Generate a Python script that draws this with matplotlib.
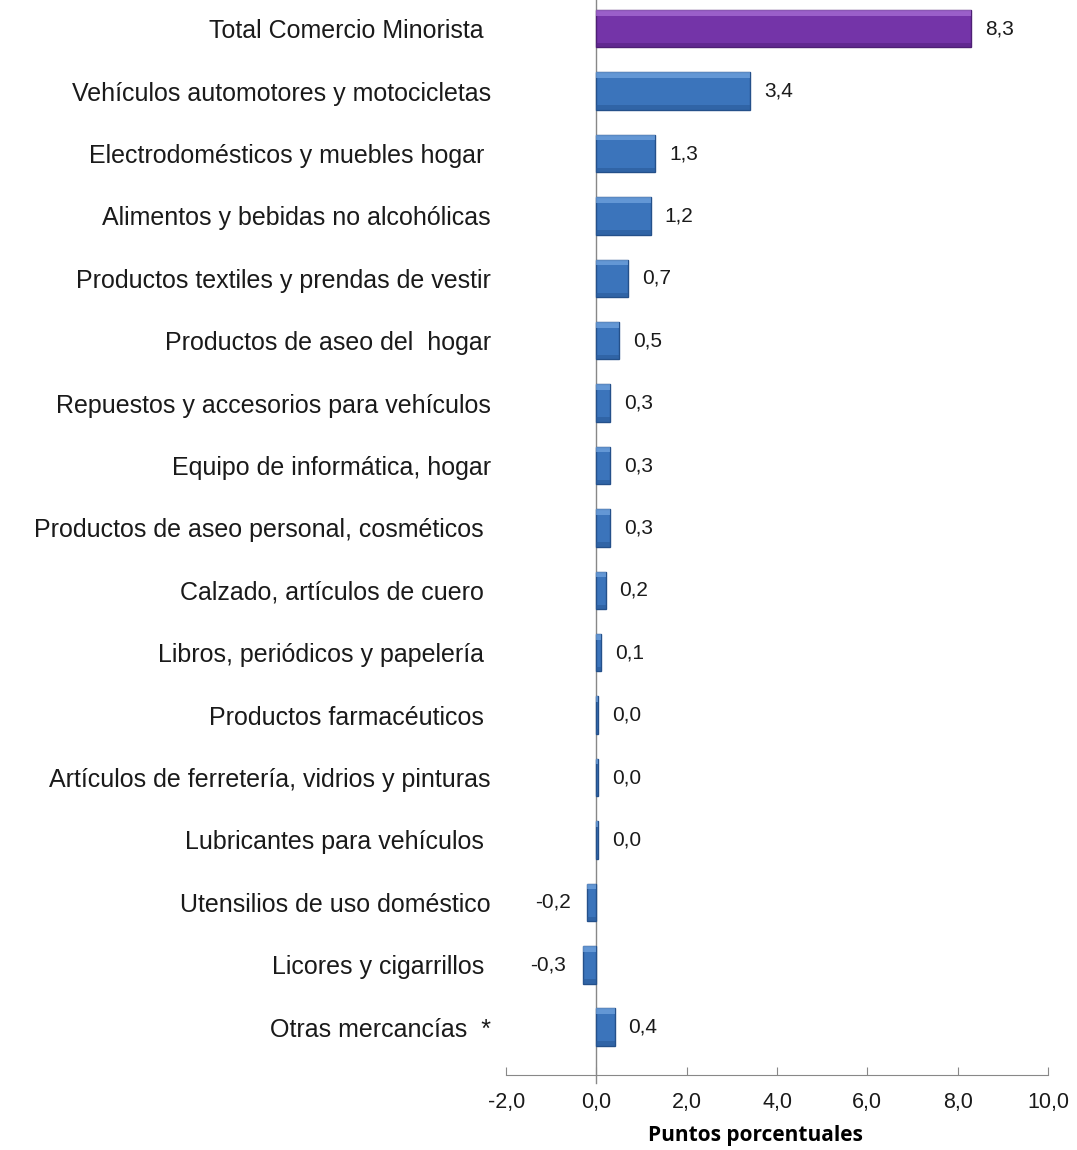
import matplotlib.pyplot as plt

# Contribution to retail trade variation (percentage points)
categorias = [
    'Total Comercio Minorista ',
    'Vehículos automotores y motocicletas',
    'Electrodomésticos y muebles hogar ',
    'Alimentos y bebidas no alcohólicas',
    'Productos textiles y prendas de vestir',
    'Productos de aseo del  hogar',
    'Repuestos y accesorios para vehículos',
    'Equipo de informática, hogar',
    'Productos de aseo personal, cosméticos ',
    'Calzado, artículos de cuero ',
    'Libros, periódicos y papelería ',
    'Productos farmacéuticos ',
    'Artículos de ferretería, vidrios y pinturas',
    'Lubricantes para vehículos ',
    'Utensilios de uso doméstico',
    'Licores y cigarrillos ',
    'Otras mercancías  *',
]
valores = [8.3, 3.4, 1.3, 1.2, 0.7, 0.5, 0.3, 0.3, 0.3, 0.2, 0.1,
           0.04, 0.03, 0.03, -0.2, -0.3, 0.4]
etiquetas = ['8,3', '3,4', '1,3', '1,2', '0,7', '0,5', '0,3', '0,3', '0,3',
             '0,2', '0,1', '0,0', '0,0', '0,0', '-0,2', '-0,3', '0,4']
xticks = [-2, 0, 2, 4, 6, 8, 10]
xtick_labels = ['-2,0', '0,0', '2,0', '4,0', '6,0', '8,0', '10,0']

plt.rcParams['font.family'] = ['Liberation Sans', 'DejaVu Sans']

fig = plt.figure(figsize=(10.77, 11.5), dpi=100)
ax = fig.add_axes([0.470, 0.065, 0.503, 0.935])

pos = list(range(len(categorias)))
colores = ['#7434a8'] + ['#3b74bb'] * (len(categorias) - 1)
bordes = ['#4e1f75'] + ['#24508a'] * (len(categorias) - 1)

bars = ax.barh(pos, valores, height=0.6, color=colores, edgecolor=bordes, linewidth=1.0, zorder=3)

# lighter strip on top and darker strip at bottom for a bevel look
for b, c in zip(bars, colores):
    x0, y0 = b.get_x(), b.get_y()
    w, h = b.get_width(), b.get_height()
    light = '#b57de0' if c == '#7434a8' else '#7fb0e8'
    dark = '#552080' if c == '#7434a8' else '#2a5a98'
    ax.fill_between([x0, x0 + w], y0, y0 + h * 0.15, color=light, alpha=0.6, zorder=4, linewidth=0)
    ax.fill_between([x0, x0 + w], y0 + h * 0.88, y0 + h, color=dark, alpha=0.6, zorder=4, linewidth=0)

for p, v, t in zip(pos, valores, etiquetas):
    if v < 0:
        ax.annotate(t, (v, p), xytext=(-12, 0), textcoords='offset points',
                    ha='right', va='center', fontsize=15, color='#1a1a1a')
    else:
        ax.annotate(t, (v, p), xytext=(10, 0), textcoords='offset points',
                    ha='left', va='center', fontsize=15, color='#1a1a1a')

ax.set_xlim(-2, 10)
ax.set_ylim(16.77, -0.46)
ax.set_yticks(pos)
ax.set_yticklabels(categorias, fontsize=18, color='#1a1a1a')
ax.tick_params(axis='y', length=0, pad=11)
ax.set_xticks(xticks)
ax.set_xticklabels(xtick_labels, fontsize=15.5, color='#1a1a1a')
ax.tick_params(axis='x', direction='in', length=6, color='#888888', pad=12)

for s in ['top', 'right', 'left']:
    ax.spines[s].set_visible(False)
ax.spines['bottom'].set_color('#888888')

# vertical zero line crossing the axis
ax.plot([0, 0], [-0.46, 16.9], color='#888888', linewidth=1.0, clip_on=False, zorder=2)

ax.set_xlabel('Puntos porcentuales', fontsize=15, fontweight='bold',
              family=['Open Sans', 'DejaVu Sans'])
ax.xaxis.set_label_coords(0.46, -0.046)

plt.savefig('out.png', dpi=100)
